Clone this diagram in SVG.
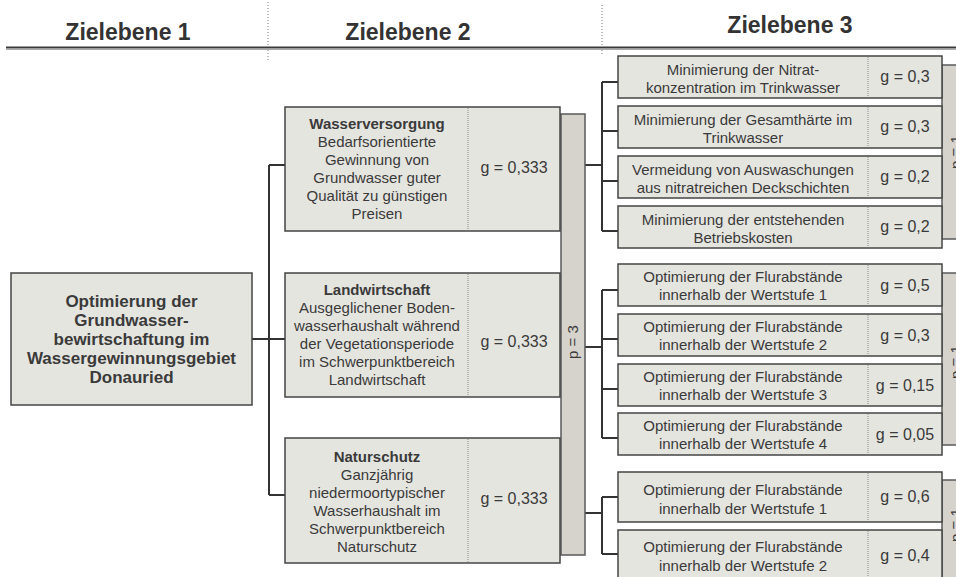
<svg xmlns="http://www.w3.org/2000/svg" width="956" height="577" viewBox="0 0 956 577">
<style>
text{font-family:"Liberation Sans",Arial,sans-serif;fill:#3a3a3a}
.hd{font-size:23px;font-weight:bold;text-anchor:middle;fill:#333}
.box{fill:#e5e5e0;stroke:#444;stroke-width:1.5}
.bar{fill:#d6d3cd;stroke:#5a5a5a;stroke-width:1.5}
.div{stroke:#8a8a8a;stroke-width:1;stroke-dasharray:1 1}
.t{font-size:15px;text-anchor:middle}
.b{font-weight:bold}
.g{font-size:16px;text-anchor:middle}
.lt{font-size:17px;font-weight:bold;text-anchor:middle}
.con{fill:none;stroke:#333;stroke-width:2}
.dot{stroke:#777;stroke-width:1;stroke-dasharray:1 2}
</style>
<rect width="956" height="577" fill="#fff"/>
<g id="header">
<line class="dot" x1="268" y1="2" x2="268" y2="62"/>
<line class="dot" x1="602" y1="5" x2="602" y2="54"/>
<text class="hd" x="128" y="40">Zielebene 1</text>
<text class="hd" x="408" y="40">Zielebene 2</text>
<text class="hd" x="790" y="33">Zielebene 3</text>
<line x1="6" y1="47.5" x2="956" y2="47.5" stroke="#3a3a3a" stroke-width="2"/>
<line x1="6" y1="49.5" x2="956" y2="49.5" stroke="#aaa" stroke-width="1"/>
</g>
<g id="connectors">
<path class="con" d="M252 339H269M269 165V495M269 165H285M269 339H285M269 495H285"/>
<path class="con" d="M585 165H602M602 82V231M602 82H618M602 131H618M602 181H618M602 231H618"/>
<path class="con" d="M585 347H602M602 290V438M602 290H618M602 339H618M602 389H618M602 438H618"/>
<path class="con" d="M585 513H602M602 497V554M602 497H618M602 554H618"/>
</g>
<g id="n0">
<rect class="box" x="11" y="273" width="241" height="132"/>
<text class="lt" x="131.5" y="307">Optimierung der</text>
<text class="lt" x="131.5" y="326">Grundwasser-</text>
<text class="lt" x="131.5" y="345">bewirtschaftung im</text>
<text class="lt" x="131.5" y="364">Wassergewinnungsgebiet</text>
<text class="lt" x="131.5" y="383">Donauried</text>
</g>
<g id="pbar-mid">
<rect class="bar" x="561" y="114" width="24" height="441"/>
<text class="t" transform="translate(578,342) rotate(-90)">p = 3</text>
</g>
<g id="n1">
<rect class="box" x="285" y="107" width="275" height="124"/>
<line class="div" x1="468" y1="108" x2="468" y2="230"/>
<text class="t" x="377" y="129"><tspan class="b">Wasserversorgung</tspan><tspan x="377" dy="18">Bedarfsorientierte</tspan><tspan x="377" dy="18">Gewinnung von</tspan><tspan x="377" dy="18">Grundwasser guter</tspan><tspan x="377" dy="18">Qualität zu günstigen</tspan><tspan x="377" dy="18">Preisen</tspan></text>
<text class="g" x="514" y="173">g = 0,333</text>
</g>
<g id="n2">
<rect class="box" x="285" y="273" width="275" height="124"/>
<line class="div" x1="468" y1="274" x2="468" y2="396"/>
<text class="t" x="377" y="295"><tspan class="b">Landwirtschaft</tspan><tspan x="377" dy="18">Ausgeglichener Boden-</tspan><tspan x="377" dy="18">wasserhaushalt während</tspan><tspan x="377" dy="18">der Vegetationsperiode</tspan><tspan x="377" dy="18">im Schwerpunktbereich</tspan><tspan x="377" dy="18">Landwirtschaft</tspan></text>
<text class="g" x="514" y="347">g = 0,333</text>
</g>
<g id="n3">
<rect class="box" x="285" y="438" width="275" height="125"/>
<line class="div" x1="468" y1="439" x2="468" y2="562"/>
<text class="t" x="377" y="462"><tspan class="b">Naturschutz</tspan><tspan x="377" dy="18">Ganzjährig</tspan><tspan x="377" dy="18">niedermoortypischer</tspan><tspan x="377" dy="18">Wasserhaushalt im</tspan><tspan x="377" dy="18">Schwerpunktbereich</tspan><tspan x="377" dy="18">Naturschutz</tspan></text>
<text class="g" x="514" y="504">g = 0,333</text>
</g>
<g id="pbar-r1">
<rect class="bar" x="942" y="65" width="24" height="174"/>
<text class="t" transform="translate(961,152) rotate(-90)">p = 1</text>
</g>
<g id="pbar-r2">
<rect class="bar" x="942" y="273" width="24" height="172"/>
<text class="t" transform="translate(961,362) rotate(-90)">p = 1</text>
</g>
<g id="pbar-r3">
<rect class="bar" x="942" y="480" width="24" height="110"/>
<text class="t" transform="translate(961,525) rotate(-90)">p = 1</text>
</g>
<g id="n1a">
<rect class="box" x="618" y="56" width="324" height="42"/>
<line class="div" x1="868" y1="57" x2="868" y2="97"/>
<text class="t" x="743" y="75">Minimierung der Nitrat-<tspan x="743" dy="18">konzentration im Trinkwasser</tspan></text>
<text class="g" x="905" y="82">g = 0,3</text>
</g>
<g id="n1b">
<rect class="box" x="618" y="106" width="324" height="42"/>
<line class="div" x1="868" y1="107" x2="868" y2="147"/>
<text class="t" x="743" y="125">Minimierung der Gesamthärte im<tspan x="743" dy="18">Trinkwasser</tspan></text>
<text class="g" x="905" y="132">g = 0,3</text>
</g>
<g id="n1c">
<rect class="box" x="618" y="156" width="324" height="42"/>
<line class="div" x1="868" y1="157" x2="868" y2="197"/>
<text class="t" x="743" y="175">Vermeidung von Auswaschungen<tspan x="743" dy="18">aus nitratreichen Deckschichten</tspan></text>
<text class="g" x="905" y="182">g = 0,2</text>
</g>
<g id="n1d">
<rect class="box" x="618" y="206" width="324" height="42"/>
<line class="div" x1="868" y1="207" x2="868" y2="247"/>
<text class="t" x="743" y="225">Minimierung der entstehenden<tspan x="743" dy="18">Betriebskosten</tspan></text>
<text class="g" x="905" y="232">g = 0,2</text>
</g>
<g id="n2a">
<rect class="box" x="618" y="264" width="324" height="42"/>
<line class="div" x1="868" y1="265" x2="868" y2="305"/>
<text class="t" x="743" y="282">Optimierung der Flurabstände<tspan x="743" dy="18">innerhalb der Wertstufe 1</tspan></text>
<text class="g" x="905" y="291">g = 0,5</text>
</g>
<g id="n2b">
<rect class="box" x="618" y="314" width="324" height="42"/>
<line class="div" x1="868" y1="315" x2="868" y2="355"/>
<text class="t" x="743" y="332">Optimierung der Flurabstände<tspan x="743" dy="18">innerhalb der Wertstufe 2</tspan></text>
<text class="g" x="905" y="341">g = 0,3</text>
</g>
<g id="n2c">
<rect class="box" x="618" y="364" width="324" height="42"/>
<line class="div" x1="868" y1="365" x2="868" y2="405"/>
<text class="t" x="743" y="382">Optimierung der Flurabstände<tspan x="743" dy="18">innerhalb der Wertstufe 3</tspan></text>
<text class="g" x="905" y="391">g = 0,15</text>
</g>
<g id="n2d">
<rect class="box" x="618" y="413" width="324" height="42"/>
<line class="div" x1="868" y1="414" x2="868" y2="454"/>
<text class="t" x="743" y="431">Optimierung der Flurabstände<tspan x="743" dy="18">innerhalb der Wertstufe 4</tspan></text>
<text class="g" x="905" y="440">g = 0,05</text>
</g>
<g id="n3a">
<rect class="box" x="618" y="472" width="324" height="50"/>
<line class="div" x1="868" y1="473" x2="868" y2="521"/>
<text class="t" x="743" y="495">Optimierung der Flurabstände<tspan x="743" dy="19">innerhalb der Wertstufe 1</tspan></text>
<text class="g" x="905" y="502">g = 0,6</text>
</g>
<g id="n3b">
<rect class="box" x="618" y="530" width="324" height="60"/>
<line class="div" x1="868" y1="531" x2="868" y2="590"/>
<text class="t" x="743" y="552">Optimierung der Flurabstände<tspan x="743" dy="19">innerhalb der Wertstufe 2</tspan></text>
<text class="g" x="905" y="561">g = 0,4</text>
</g>
</svg>
